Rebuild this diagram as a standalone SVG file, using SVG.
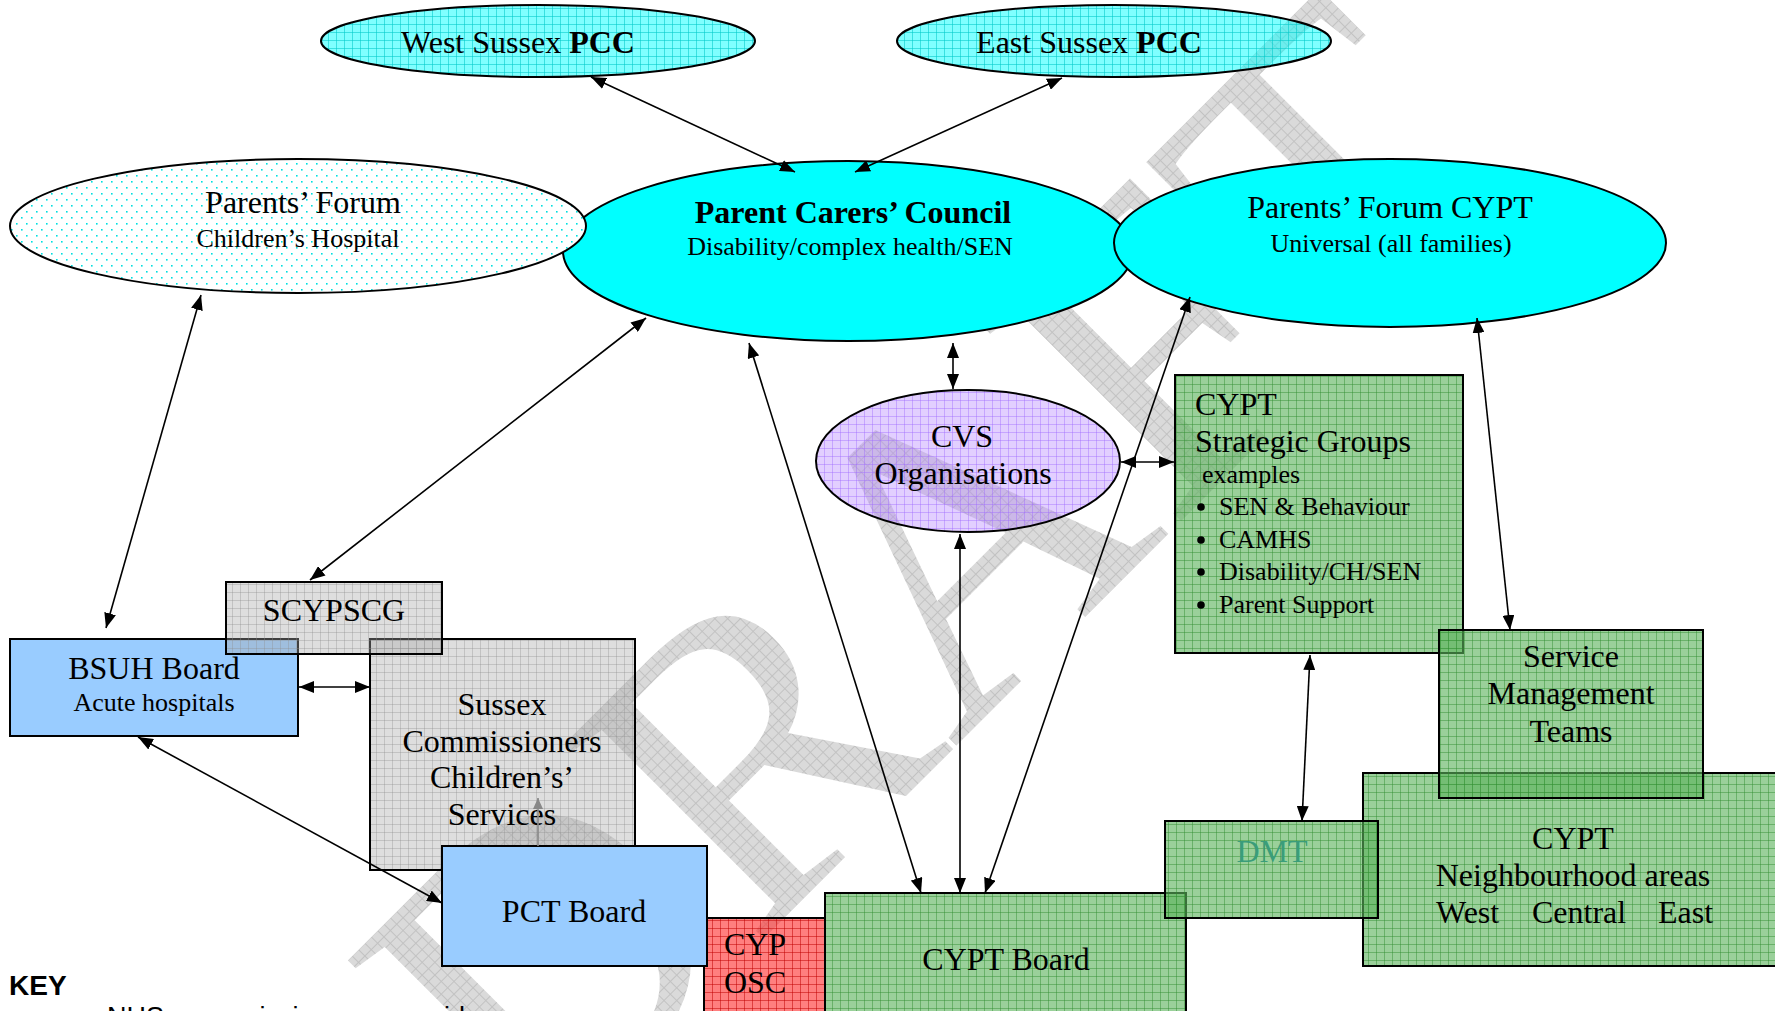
<svg xmlns="http://www.w3.org/2000/svg" width="1775" height="1011" viewBox="0 0 1775 1011">
<defs>
<style>
.t{font-family:"Liberation Serif","Times New Roman",serif;fill:#000}
.m{font-size:32px}
.s{font-size:26px}
.c{text-anchor:middle}
.b{font-weight:bold}
.box{stroke:#000;stroke-width:2}
.con{stroke:#000;stroke-width:1.6;fill:none;marker-start:url(#ah);marker-end:url(#ah)}
</style>
<marker id="ah" markerUnits="userSpaceOnUse" markerWidth="16" markerHeight="12" refX="15" refY="6" orient="auto-start-reverse"><path d="M0,0 L15,6 L0,12 z" fill="#000"/></marker>
<marker id="ahg" markerUnits="userSpaceOnUse" markerWidth="12" markerHeight="10" refX="11" refY="5" orient="auto"><path d="M0,0 L11,5 L0,10 z" fill="#888"/></marker>
<pattern id="pCyan" patternUnits="userSpaceOnUse" width="8" height="8"><rect width="8" height="8" fill="#00ffff" fill-opacity="0.5"/><path d="M0,0.5 H8 M0.5,0 V8" stroke="#00c8c8" stroke-opacity="0.55" stroke-width="1"/></pattern>
<pattern id="pGreen" patternUnits="userSpaceOnUse" width="8" height="8"><rect width="8" height="8" fill="#5cb35c" fill-opacity="0.62"/><path d="M0,0.5 H8 M0.5,0 V8" stroke="#2e8b2e" stroke-opacity="0.45" stroke-width="1"/></pattern>
<pattern id="pGray" patternUnits="userSpaceOnUse" width="8" height="8"><rect width="8" height="8" fill="#a8a8a8" fill-opacity="0.38"/><path d="M0,0.5 H8 M0.5,0 V8" stroke="#8c8c8c" stroke-opacity="0.35" stroke-width="1"/></pattern>
<pattern id="pRed" patternUnits="userSpaceOnUse" width="8" height="8"><rect width="8" height="8" fill="#ff3030" fill-opacity="0.62"/><path d="M0,0.5 H8 M0.5,0 V8" stroke="#c00000" stroke-opacity="0.5" stroke-width="1"/></pattern>
<pattern id="pPurple" patternUnits="userSpaceOnUse" width="8" height="8"><rect width="8" height="8" fill="#b380ff" fill-opacity="0.38"/><path d="M0,0.5 H8 M0.5,0 V8" stroke="#9a66ff" stroke-opacity="0.4" stroke-width="1"/></pattern>
<pattern id="pDots" patternUnits="userSpaceOnUse" width="10" height="12"><rect width="10" height="12" fill="#fff"/><rect x="1" y="1" width="1.6" height="1.6" fill="#00e0e0"/><rect x="6" y="7" width="1.6" height="1.6" fill="#00e0e0"/></pattern>
<pattern id="pWm" patternUnits="userSpaceOnUse" width="9" height="9"><rect width="9" height="9" fill="#dadada"/><path d="M0,0.5 H9 M0.5,0 V9" stroke="#c2c2c2" stroke-width="1"/></pattern>
</defs>
<rect width="1775" height="1011" fill="#fff"/>
<text id="watermark" font-family="Liberation Serif, Times New Roman, serif" font-size="425" fill="url(#pWm)" transform="translate(536,1166) rotate(-45)">DRAFT</text>

<g id="parent-carers-council">
<ellipse cx="848" cy="251" rx="285" ry="90" fill="#00ffff" class="box"/>
<text class="t m b c" x="853" y="223">Parent Carers’ Council</text>
<text class="t s c" x="850" y="255">Disability/complex health/SEN</text>
</g>
<g id="parents-forum-hospital">
<ellipse cx="298" cy="226" rx="288" ry="67" fill="url(#pDots)" class="box"/>
<text class="t m c" x="303" y="213">Parents’ Forum</text>
<text class="t s c" x="298" y="247">Children’s Hospital</text>
</g>
<g id="west-sussex-pcc">
<ellipse cx="538" cy="41" rx="217" ry="36" fill="url(#pCyan)" class="box"/>
<text class="t m c" x="518" y="53">West Sussex <tspan class="b">PCC</tspan></text>
</g>
<g id="east-sussex-pcc">
<ellipse cx="1114" cy="41" rx="217" ry="36" fill="url(#pCyan)" class="box"/>
<text class="t m c" x="1089" y="53">East Sussex <tspan class="b">PCC</tspan></text>
</g>
<g id="parents-forum-cypt">
<ellipse cx="1390" cy="243" rx="276" ry="84" fill="#00ffff" class="box"/>
<text class="t m c" x="1390" y="218">Parents’ Forum CYPT</text>
<text class="t s c" x="1391" y="252">Universal (all families)</text>
</g>
<g id="cvs">
<ellipse cx="968" cy="461" rx="152" ry="71" fill="url(#pPurple)" class="box"/>
<text class="t m c" x="962" y="447">CVS</text>
<text class="t m c" x="963" y="484">Organisations</text>
</g>
<g id="cypt-strategic-groups">
<rect x="1175" y="375" width="288" height="278" fill="url(#pGreen)" class="box"/>
<text class="t m" x="1195" y="415">CYPT</text>
<text class="t m" x="1195" y="452">Strategic Groups</text>
<text class="t s" x="1202" y="483">examples</text>
<circle cx="1201" cy="507" r="3.8"/><text class="t s" x="1219" y="515">SEN &amp; Behaviour</text>
<circle cx="1201" cy="540" r="3.8"/><text class="t s" x="1219" y="548">CAMHS</text>
<circle cx="1201" cy="572" r="3.8"/><text class="t s" x="1219" y="580">Disability/CH/SEN</text>
<circle cx="1201" cy="605" r="3.8"/><text class="t s" x="1219" y="613">Parent Support</text>
</g>
<g id="cypt-neighbourhood">
<rect x="1363" y="773" width="430" height="193" fill="url(#pGreen)" class="box"/>
<text class="t m c" x="1573" y="849">CYPT</text>
<text class="t m c" x="1573" y="886">Neighbourhood areas</text>
<text class="t m" y="923"><tspan x="1436">West</tspan><tspan x="1532">Central</tspan><tspan x="1658">East</tspan></text>
</g>
<g id="service-management-teams">
<rect x="1439" y="630" width="264" height="168" fill="url(#pGreen)" class="box"/>
<text class="t m c" x="1571" y="667">Service</text>
<text class="t m c" x="1571" y="704">Management</text>
<text class="t m c" x="1571" y="742">Teams</text>
</g>
<g id="cypt-board">
<rect x="825" y="893" width="361" height="140" fill="url(#pGreen)" class="box"/>
<text class="t m c" x="1006" y="970">CYPT Board</text>
</g>
<g id="dmt">
<rect x="1165" y="821" width="213" height="97" fill="url(#pGreen)" class="box"/>
<text class="t m c" x="1272" y="862" style="fill:#3a9d7a">DMT</text>
</g>
<g id="cyp-osc">
<rect x="704" y="918" width="121" height="110" fill="url(#pRed)" class="box"/>
<text class="t m c" x="755" y="955">CYP</text>
<text class="t m c" x="755" y="993">OSC</text>
</g>
<g id="sussex-commissioners">
<rect x="370" y="639" width="265" height="231" fill="url(#pGray)" class="box"/>
<text class="t m c" x="502" y="715">Sussex</text>
<text class="t m c" x="502" y="752">Commissioners</text>
<text class="t m c" x="502" y="788">Children’s’</text>
<text class="t m c" x="502" y="825">Services</text>
</g>
<g id="bsuh-board">
<rect x="10" y="639" width="288" height="97" fill="#99ccff" class="box"/>
<text class="t m c" x="154" y="679">BSUH Board</text>
<text class="t s c" x="154" y="711">Acute hospitals</text>
</g>
<g id="pct-board">
<rect x="442" y="846" width="265" height="120" fill="#99ccff" class="box"/>
<text class="t m c" x="574" y="922">PCT Board</text>
</g>
<g id="scypscg">
<rect x="226" y="582" width="216" height="72" fill="url(#pGray)" class="box"/>
<text class="t m c" x="334" y="621">SCYPSCG</text>
</g>
<g id="key">
<text x="9" y="995" font-family="Liberation Sans, Arial, sans-serif" font-size="28" font-weight="bold">KEY</text>
<text y="1026" font-family="Liberation Sans, Arial, sans-serif" font-size="27"><tspan x="107">NHS</tspan><tspan x="186">commissioner or provider</tspan></text>
</g>
<g id="connectors">
<line class="con" x1="591" y1="77" x2="795" y2="172"/>
<line class="con" x1="1062" y1="78" x2="855" y2="172"/>
<line class="con" x1="201" y1="295" x2="106" y2="628"/>
<line class="con" x1="646" y1="318" x2="310" y2="580"/>
<line class="con" x1="749" y1="343" x2="921" y2="893"/>
<line class="con" x1="953" y1="343" x2="953" y2="389"/>
<line class="con" x1="960" y1="534" x2="960" y2="893"/>
<line class="con" x1="1190" y1="297" x2="985" y2="893"/>
<line class="con" x1="1121" y1="462" x2="1174" y2="462"/>
<line class="con" x1="1477" y1="318" x2="1510" y2="630"/>
<line class="con" x1="1310" y1="655" x2="1302" y2="821"/>
<line class="con" x1="299" y1="687" x2="370" y2="687"/>
<line class="con" x1="138" y1="737" x2="442" y2="903"/>
<line x1="538" y1="846" x2="538" y2="798" stroke="#888" stroke-width="1.6" marker-end="url(#ahg)"/>
</g>
</svg>
